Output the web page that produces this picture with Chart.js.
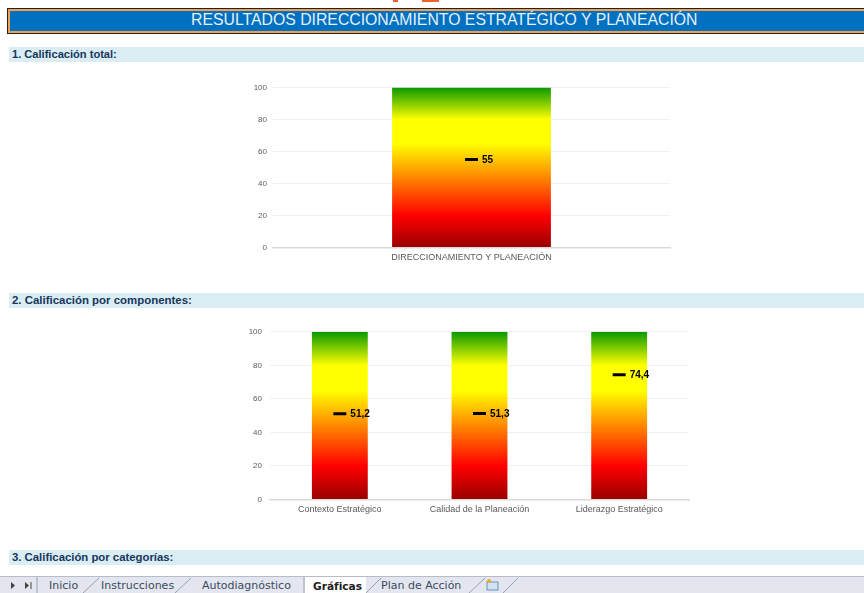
<!DOCTYPE html>
<html lang="es">
<head>
<meta charset="utf-8">
<title>Resultados</title>
<script src="https://cdn.jsdelivr.net/npm/chart.js@4/dist/chart.umd.min.js"></script>
<style>
  html, body { margin: 0; padding: 0; background: #fff; }
  body { position: relative; width: 864px; height: 593px; overflow: hidden; font-family: "Liberation Sans", Arial, sans-serif; }
  .logo { position: absolute; top: 0; height: 2px; background: #e8622a; }
  .title {
    position: absolute; left: 8px; top: 9px; width: 880px; height: 24px; box-sizing: border-box;
    background: #0070c0; border: 2px solid #f0a050; outline: 1px solid #222;
    box-shadow: 0 1px 0 #777;
  }
  .title span {
    position: absolute; left: 0; width: 872px; top: -1px; line-height: 20px;
    text-indent: 181px; color: #e6f1fa; font-size: 15.8px; white-space: nowrap;
  }
  .section {
    position: absolute; left: 9px; width: 855px; height: 15px; background: #daedf3;
    color: #17365d; font-weight: bold; font-size: 11px; line-height: 15px; padding-left: 3px; box-sizing: border-box;
  }
  .box { position: absolute; }
  .tabs { position: absolute; left: 0; top: 576px; width: 864px; height: 17px; background: #e3e6ef; border-top: 1px solid #b8bcc8; box-sizing: border-box; }
  .tabs span { position: absolute; top: 1px; font-family: "DejaVu Sans", sans-serif; font-size: 11px; line-height: 16px; color: #3b4a5e; white-space: nowrap; }
  .tabs .on { font-weight: bold; color: #222; font-size: 10.6px; }
  .tabs svg { position: absolute; left: 0; top: 0; }
</style>
</head>
<body>
<div class="logo" style="left:393px;width:5px"></div>
<div class="logo" style="left:422px;width:17px"></div>
<div class="title"><span>RESULTADOS DIRECCIONAMIENTO ESTRATÉGICO Y PLANEACIÓN</span></div>

<div class="section" style="top:47px;font-size:11.1px">1. Calificación total:</div>
<div class="box" style="left:240px;top:75px;width:440px;height:195px"><canvas id="totalChart"></canvas></div>

<div class="section" style="top:293px;font-size:11.45px">2. Calificación por componentes:</div>
<div class="box" style="left:240px;top:319px;width:460px;height:201px"><canvas id="componentsChart"></canvas></div>

<div class="section" style="top:550px;font-size:11.35px">3. Calificación por categorías:</div>

<div class="tabs">
  <svg width="864" height="17">
    <path d="M37 0V16M83 16L99 1M175 16L191 1M304 0V16M366 16L381 1M469 16L485 1M503 16L518 1" stroke="#9aa0ae" fill="none"/>
    <path d="M11 5l4 3.5l-4 3.5zM25 5l4 3.5l-4 3.5z" fill="#444"/>
    <path d="M31 5v7" stroke="#444"/>
    <rect x="305" y="0" width="61" height="17" fill="#fff"/>
    <rect x="487" y="5" width="11" height="8" fill="#cfe3f4" stroke="#6f8fb0"/>
    <circle cx="489" cy="4" r="2" fill="#e8b020"/>
  </svg>
  <span style="left:49px">Inicio</span>
  <span style="left:101px">Instrucciones</span>
  <span style="left:202px">Autodiagnóstico</span>
  <span class="on" style="left:313px">Gráficas</span>
  <span style="left:381px">Plan de Acción</span>
</div>

<script>
const totalLabels = ["DIRECCIONAMIENTO Y PLANEACIÓN"]
const totalScale = [100]
const totalScores = [55]
const totalScoreText = ["55"]

const componentLabels = ["Contexto Estratégico", "Calidad de la Planeación", "Liderazgo Estratégico"]
const componentScale = [100, 100, 100]
const componentScores = [51.2, 51.3, 74.4]
const componentScoreText = ["51,2", "51,3", "74,4"]

const yTicks = [0, 20, 40, 60, 80, 100]

// green on top down to dark red, same ramp on every bar
function barGradient(context) {
  const area = context.chart.chartArea
  if (!area) return "#ff0000"
  const g = context.chart.ctx.createLinearGradient(0, area.bottom, 0, area.top)
  g.addColorStop(0, "#990000")
  g.addColorStop(0.2, "#ff0000")
  g.addColorStop(0.65, "#ffff00")
  g.addColorStop(0.8, "#ffff00")
  g.addColorStop(1, "#0a9900")
  return g
}

// writes the score to the right of each marker
const scoreLabels = {
  id: "scoreLabels",
  afterDatasetsDraw(chart, args, opts) {
    const { ctx } = chart
    const points = chart.getDatasetMeta(1).data
    ctx.save()
    ctx.font = 'bold 10px "Liberation Sans", Arial, sans-serif'
    ctx.fillStyle = "#000"
    ctx.textBaseline = "middle"
    points.forEach((p, i) => ctx.fillText(opts.text[i], p.x + 10.5, p.y + 0.5))
    ctx.restore()
  }
}

function makeChart(id, labels, scale, scores, text, pad, axisWidth, tickPad) {
  return new Chart(document.getElementById(id), {
    data: {
      labels,
      datasets: [
        {
          type: "bar",
          data: scale,
          backgroundColor: barGradient,
          barPercentage: 0.4,
          categoryPercentage: 1,
          order: 2
        },
        {
          type: "line",
          data: scores,
          showLine: false,
          pointStyle: "line",
          pointRadius: 6.5,
          pointBorderWidth: 3,
          pointBorderColor: "#000",
          order: 1
        }
      ]
    },
    options: {
      responsive: true,
      maintainAspectRatio: false,
      animation: false,
      layout: { padding: pad },
      plugins: {
        legend: { display: false },
        tooltip: { enabled: false },
        scoreLabels: { text }
      },
      scales: {
        x: {
          grid: { display: false, drawTicks: false },
          border: { color: "#d9d9d9", width: 1.5 },
          ticks: { color: "#595959", font: { size: 9, family: '"Liberation Sans", Arial, sans-serif' }, padding: 5, maxRotation: 0 },
          afterFit(axis) { axis.height = 23 }
        },
        y: {
          min: 0,
          max: 100,
          afterBuildTicks(axis) { axis.ticks = yTicks.map((value) => ({ value })) },
          grid: { color: "#f0f0f0", drawTicks: false },
          border: { display: false },
          ticks: { color: "#595959", font: { size: 8, family: '"Liberation Sans", Arial, sans-serif' }, padding: tickPad },
          afterFit(axis) { axis.width = axisWidth }
        }
      }
    },
    plugins: [scoreLabels]
  })
}

makeChart("totalChart", totalLabels, totalScale, totalScores, totalScoreText, { top: 12.5, right: 10, left: 0, bottom: -0.5 }, 33, 6)
makeChart("componentsChart", componentLabels, componentScale, componentScores, componentScoreText, { top: 10.5, right: 11, left: -2, bottom: -2.5 }, 32, 8)
</script>
</body>
</html>
